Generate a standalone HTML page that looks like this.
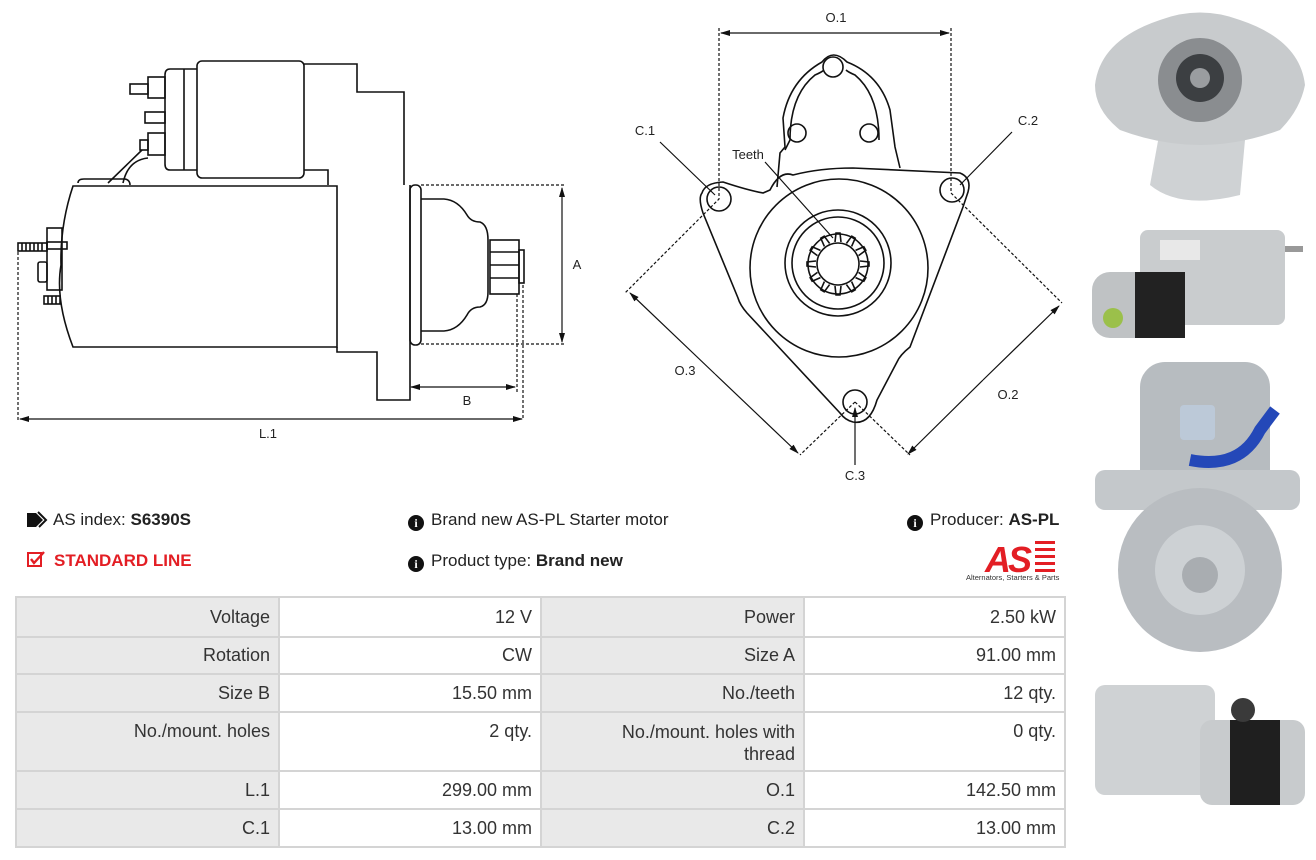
<!DOCTYPE html>
<html><head><meta charset="utf-8"><style>
*{margin:0;padding:0;box-sizing:border-box}
body{width:1316px;height:860px;background:#fff;position:relative;overflow:hidden;font-family:"Liberation Sans",sans-serif;color:#222}
.t{position:absolute;font-size:17px;white-space:nowrap}
.ic{display:inline-block;width:16px;height:16px;border-radius:50%;background:#111;color:#fff;font-size:12px;font-weight:bold;text-align:center;line-height:16px;font-family:"Liberation Serif",serif;vertical-align:-2px;margin-right:7px}
table{position:absolute;left:15px;top:596px;border-collapse:collapse;width:1051px}
td{border:2px solid #d4d4d4;font-size:18px;text-align:right;padding:0 8px;vertical-align:middle;color:#333}
td.l{background:#e9e9e9}
svg{position:absolute;left:0;top:0}
</style></head><body>
<svg width="1316" height="860" viewBox="0 0 1316 860" fill="none" stroke="#111" stroke-width="1.6">
<defs><marker id="a" markerWidth="10" markerHeight="8" refX="9" refY="4" orient="auto" markerUnits="userSpaceOnUse"><path d="M0,1 L10,4 L0,7z" fill="#111" stroke="none"/></marker></defs>
<!-- LEFT SIDE VIEW -->
<rect x="197" y="61" width="107" height="117" rx="5"/>
<path d="M197,69 H170 Q165,69 165,75 V164 Q165,170 170,170 H197"/>
<line x1="184" y1="69" x2="184" y2="170"/>
<rect x="148" y="77" width="17" height="21"/><rect x="130" y="84" width="18" height="10"/>
<rect x="145" y="112" width="20" height="11"/>
<rect x="148" y="133" width="17" height="22"/><rect x="140" y="140" width="8" height="10"/>
<path d="M304,64 H357 V92 H404 V185"/>
<path d="M304,170 H328 V185"/>
<path d="M108,183 L142,150 M123,183 Q128,160 148,158"/>
<path d="M78,183 Q78,179 84,179 H125 Q130,180 130,185"/>
<path d="M73,186 H337 V347 H73 Q55,300 61,265 Q60,225 73,186z"/>
<path d="M337,347 V352 H377 V400 H410 V185"/>
<rect x="410" y="185" width="11" height="160" rx="5"/>
<path d="M421,199 H444 Q458,200 467,215 Q471,222 480,222 Q488,225 488,240 V292 Q488,305 480,307 Q471,307 467,315 Q458,330 444,331 H421"/>
<rect x="490" y="240" width="29" height="54"/>
<path d="M490,252 H519 M490,265 H519 M490,278 H519"/>
<rect x="519" y="250" width="5" height="33"/>
<rect x="47" y="242" width="20" height="7"/><rect x="18" y="243" width="29" height="8"/>
<path d="M22,243 V251 M26,243 V251 M30,243 V251 M34,243 V251 M38,243 V251 M42,243 V251"/>
<rect x="47" y="228" width="15" height="62"/><rect x="38" y="262" width="9" height="20" rx="2"/>
<rect x="44" y="296" width="16" height="8"/><path d="M48,296 V304 M52,296 V304 M56,296 V304"/>
<g stroke-dasharray="3,2" stroke-width="1.2">
<path d="M421,185 H566 M421,344 H566 M517,294 V392 M523,285 V420 M18,252 V420"/>
</g>
<g stroke-width="1.2" marker-end="url(#a)">
<path d="M562,265 V188"/><path d="M562,265 V342"/>
<path d="M460,387 H411"/><path d="M460,387 H515"/>
<path d="M270,419 H20"/><path d="M270,419 H522"/>
<path d="M835,33 H721"/><path d="M835,33 H949"/>
<path d="M715,374 L630,293"/><path d="M715,374 L798,453"/>
<path d="M983,380 L1059,306"/><path d="M983,380 L908,454"/>
</g>
<!-- FRONT VIEW -->
<path d="M770,190 Q780,170 793,175 Q820,168 853,168 L960,173 Q972,178 968,192 L963,207 L910,347 Q900,355 897,362 L877,400 Q870,425 853,422 Q845,420 840,413 L747,313 Q740,305 738,298 L703,213 Q698,198 702,193 Q705,183 723,182 Q747,190 763,193z"/>
<path d="M777,187 L780,153 L785,147 L783,118 Q790,80 822,62 Q833,48 847,62 Q880,75 890,110 L895,147 L900,168"/>
<path d="M785,150 L790,140 Q790,95 815,75 Q822,72 824,70 M879,140 Q879,95 855,75 Q848,72 846,70" />
<circle cx="833" cy="67" r="10"/><circle cx="797" cy="133" r="9"/><circle cx="869" cy="133" r="9"/>
<circle cx="719" cy="199" r="12"/><circle cx="952" cy="190" r="12"/><circle cx="855" cy="402" r="12"/>
<circle cx="839" cy="268" r="89"/><circle cx="838" cy="263" r="53"/><circle cx="838" cy="263" r="46"/>
<circle cx="838" cy="264" r="30"/><circle cx="838" cy="264" r="21"/>
<g transform="translate(838,264)">
<path d="M-3,-22 L-2,-31 L2,-31 L3,-22" transform="rotate(0)"/><path d="M-3,-22 L-2,-31 L2,-31 L3,-22" transform="rotate(30)"/><path d="M-3,-22 L-2,-31 L2,-31 L3,-22" transform="rotate(60)"/><path d="M-3,-22 L-2,-31 L2,-31 L3,-22" transform="rotate(90)"/><path d="M-3,-22 L-2,-31 L2,-31 L3,-22" transform="rotate(120)"/><path d="M-3,-22 L-2,-31 L2,-31 L3,-22" transform="rotate(150)"/><path d="M-3,-22 L-2,-31 L2,-31 L3,-22" transform="rotate(180)"/><path d="M-3,-22 L-2,-31 L2,-31 L3,-22" transform="rotate(210)"/><path d="M-3,-22 L-2,-31 L2,-31 L3,-22" transform="rotate(240)"/><path d="M-3,-22 L-2,-31 L2,-31 L3,-22" transform="rotate(270)"/><path d="M-3,-22 L-2,-31 L2,-31 L3,-22" transform="rotate(300)"/><path d="M-3,-22 L-2,-31 L2,-31 L3,-22" transform="rotate(330)"/>
</g>
<g stroke-dasharray="3,2" stroke-width="1.2">
<path d="M719,28 V199 L625,293 M951,28 V193 L1062,303 M855,402 L800,455 M855,402 L910,455"/>
</g>
<g stroke-width="1.2" marker-end="url(#a)">
<path d="M660,142 L715,195 M1012,132 L960,185 M765,162 L833,238 M855,465 V408"/>
</g>
<g fill="#222" stroke="none" font-family="Liberation Sans,sans-serif" font-size="13" text-anchor="middle">
<text x="577" y="269">A</text><text x="467" y="405">B</text><text x="268" y="438">L.1</text>
<text x="836" y="22">O.1</text><text x="645" y="135">C.1</text><text x="1028" y="125">C.2</text><text x="748" y="159">Teeth</text><text x="855" y="480">C.3</text><text x="685" y="375">O.3</text><text x="1008" y="399">O.2</text>
</g>
<!-- PHOTOS -->
<g stroke="none">
<path d="M1160,130 L1150,185 Q1180,210 1240,195 L1245,140z" fill="#cfd2d4"/>
<path d="M1095,85 Q1100,40 1160,20 Q1200,5 1240,20 Q1300,40 1305,85 Q1300,110 1280,130 Q1200,160 1120,130 Q1095,110 1095,85z" fill="#c8cbcd"/>
<circle cx="1200" cy="80" r="42" fill="#8a8d90"/><circle cx="1200" cy="78" r="24" fill="#3c3f42"/><circle cx="1200" cy="78" r="10" fill="#9a9da0"/>
<rect x="1140" y="230" width="145" height="95" rx="8" fill="#c9ccce"/>
<rect x="1092" y="272" width="90" height="66" rx="18" fill="#bfc2c4"/><rect x="1135" y="272" width="50" height="66" fill="#222"/>
<circle cx="1113" cy="318" r="10" fill="#9bc04a"/><rect x="1160" y="240" width="40" height="20" fill="#e8e8e8"/><rect x="1285" y="246" width="18" height="6" fill="#999"/>
<rect x="1140" y="362" width="130" height="140" rx="25" fill="#b7bcc0"/><rect x="1180" y="405" width="35" height="35" rx="4" fill="#bcc9d8"/>
<path d="M1190,460 Q1240,470 1260,430 L1275,410" stroke="#2448b8" stroke-width="12" fill="none"/>
<rect x="1095" y="470" width="205" height="40" rx="10" fill="#c4c8cb"/>
<circle cx="1200" cy="570" r="82" fill="#b9bdc1"/><circle cx="1200" cy="570" r="45" fill="#cdd1d4"/><circle cx="1200" cy="575" r="18" fill="#a9adb1"/>
<rect x="1095" y="685" width="120" height="110" rx="10" fill="#cfd2d4"/><rect x="1200" y="720" width="105" height="85" rx="12" fill="#c8cbcd"/><rect x="1230" y="720" width="50" height="85" fill="#1f1f1f"/>
<circle cx="1243" cy="710" r="12" fill="#3a3a3a"/>
</g>
<!-- logo -->
<g stroke="none">
<text x="985" y="572" font-family="Liberation Sans,sans-serif" font-size="36" font-weight="bold" font-style="italic" fill="#e31e24" stroke="none" letter-spacing="-3">AS</text>
<rect x="1035" y="541" width="20" height="3" fill="#e31e24"/><rect x="1035" y="548" width="20" height="3" fill="#e31e24"/><rect x="1035" y="555" width="20" height="3" fill="#e31e24"/><rect x="1035" y="562" width="20" height="3" fill="#e31e24"/><rect x="1035" y="569" width="20" height="3" fill="#e31e24"/>
<text x="966" y="580" font-family="Liberation Sans,sans-serif" font-size="7.5" fill="#333">Alternators, Starters &amp; Parts</text>
</g>
<!-- tag icon -->
<path d="M27,513 H36 L43,520 L36,527 H27z" fill="#111" stroke="none"/><path d="M38,512 L46,520 L39,527" stroke="#111" stroke-width="2"/>
<rect x="28" y="553" width="13" height="13" stroke="#e31e24" stroke-width="2"/><path d="M31,559 L34,563 L44,552" stroke="#e31e24" stroke-width="2.4"/>
</svg>
<div class="t" style="left:53px;top:510px">AS index: <b>S6390S</b></div>
<div class="t" style="left:54px;top:551px;color:#e31e24;font-weight:bold">STANDARD LINE</div>
<div class="t" style="left:408px;top:510px"><span class="ic">i</span>Brand new AS-PL Starter motor</div>
<div class="t" style="left:408px;top:551px"><span class="ic">i</span>Product type: <b>Brand new</b></div>
<div class="t" style="left:907px;top:510px"><span class="ic">i</span>Producer: <b>AS-PL</b></div>
<table>
<tr style="height:40px"><td class="l" style="width:263px">Voltage</td><td style="width:262px">12 V</td><td class="l" style="width:263px">Power</td><td>2.50 kW</td></tr>
<tr style="height:37px"><td class="l">Rotation</td><td>CW</td><td class="l">Size A</td><td>91.00 mm</td></tr>
<tr style="height:38px"><td class="l">Size B</td><td>15.50 mm</td><td class="l">No./teeth</td><td>12 qty.</td></tr>
<tr style="height:59px"><td class="l" style="vertical-align:top;padding-top:8px">No./mount. holes</td><td style="vertical-align:top;padding-top:8px">2 qty.</td><td class="l" style="vertical-align:top;padding-top:8px;line-height:22px">No./mount. holes with<br>thread</td><td style="vertical-align:top;padding-top:8px">0 qty.</td></tr>
<tr style="height:38px"><td class="l">L.1</td><td>299.00 mm</td><td class="l">O.1</td><td>142.50 mm</td></tr>
<tr style="height:38px"><td class="l">C.1</td><td>13.00 mm</td><td class="l">C.2</td><td>13.00 mm</td></tr>
</table>
</body></html>
